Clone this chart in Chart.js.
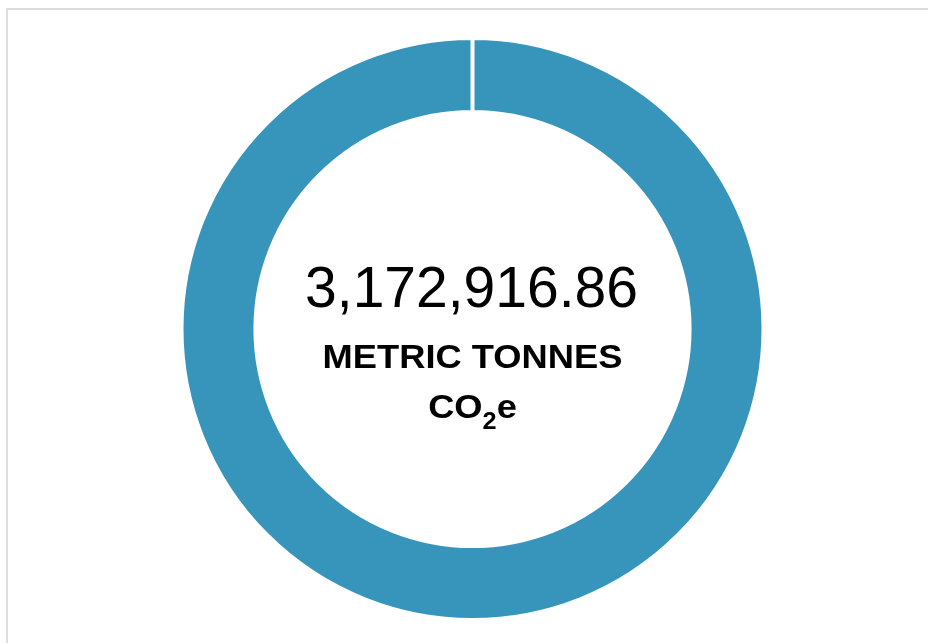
<!DOCTYPE html>
<html>
<head>
<meta charset="utf-8">
<script src="https://cdn.jsdelivr.net/npm/chart.js@4"></script>
<style>
  html, body { margin: 0; padding: 0; background: #ffffff; width: 928px; height: 643px; overflow: hidden; }
  #frame { position: absolute; left: 6px; top: 8px; width: 1000px; height: 1000px; border: 2px solid #dddddd; box-sizing: border-box; }
  #wrap { position: absolute; left: 172px; top: 29px; width: 601px; height: 600px; }
</style>
</head>
<body>
<div id="frame"></div>
<div id="wrap"><canvas id="c"></canvas></div>
<script>
const categories = ['Metric tonnes CO2e'];
const values = [3172916.86];
const unitLine1 = 'METRIC TONNES';
const unitParts = ['CO', '2', 'e'];
const ringColor = '#3795bc';

const centerText = {
  id: 'centerText',
  afterDraw(chart) {
    const ctx = chart.ctx;
    const meta = chart.getDatasetMeta(0);
    const arc = meta.data[0];
    const cx = arc.x, cy = arc.y;
    const total = values.reduce((a, b) => a + b, 0);
    const numText = total.toLocaleString('en-US', { minimumFractionDigits: 2, maximumFractionDigits: 2 });
    ctx.save();
    ctx.fillStyle = '#000000';
    ctx.textBaseline = 'alphabetic';
    // big number
    ctx.save();
    ctx.translate(cx, cy - 22);
    ctx.font = '57px "Liberation Sans", Arial, sans-serif';
    ctx.textAlign = 'center';
    ctx.fillText(numText, -1, 0);
    ctx.restore();
    // METRIC TONNES
    ctx.save();
    ctx.translate(cx, cy + 39);
    ctx.scale(1.1, 1);
    ctx.font = 'bold 33px "Liberation Sans", Arial, sans-serif';
    ctx.textAlign = 'center';
    ctx.fillText(unitLine1, 0, 0);
    ctx.restore();
    // CO2e
    const big = 'bold 33px "Liberation Sans", Arial, sans-serif';
    const small = 'bold 23px "Liberation Sans", Arial, sans-serif';
    ctx.font = big; const w1 = ctx.measureText(unitParts[0]).width;
    ctx.font = small; const w2 = ctx.measureText(unitParts[1]).width;
    ctx.font = big; const w3 = ctx.measureText(unitParts[2]).width;
    const sx = 1.1;
    const totalW = (w1 + w2 + w3);
    ctx.save();
    ctx.translate(cx, cy + 89);
    ctx.scale(sx, 1);
    ctx.textAlign = 'left';
    let x = -totalW / 2;
    ctx.font = big; ctx.fillText(unitParts[0], x, 0); x += w1;
    ctx.font = small; ctx.fillText(unitParts[1], x, 11); x += w2;
    ctx.font = big; ctx.fillText(unitParts[2], x, 0);
    ctx.restore();
    ctx.restore();
  }
};

new Chart(document.getElementById('c'), {
  type: 'doughnut',
  data: {
    labels: categories,
    datasets: [{
      data: values,
      backgroundColor: ringColor,
      borderColor: '#ffffff',
      borderWidth: 4,
      hoverOffset: 0
    }]
  },
  options: {
    responsive: true,
    maintainAspectRatio: false,
    animation: false,
    cutout: '74.6%',
    layout: { padding: 7 },
    plugins: { legend: { display: false }, tooltip: { enabled: false } }
  },
  plugins: [centerText]
});
</script>
</body>
</html>
